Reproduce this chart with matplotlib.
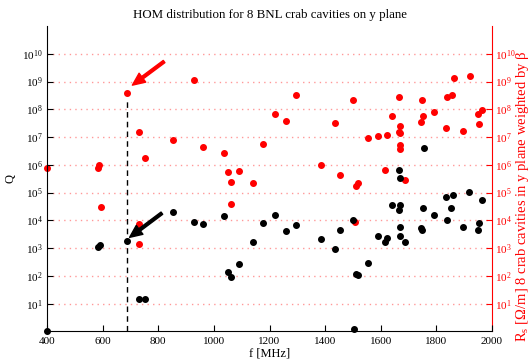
import matplotlib
matplotlib.use("Agg")
import matplotlib.pyplot as plt
import numpy as np
from matplotlib.ticker import NullLocator

plt.rcParams['font.family'] = 'serif'
plt.rcParams['font.serif'] = ['Liberation Serif', 'DejaVu Serif']
plt.rcParams['mathtext.fontset'] = 'custom'
plt.rcParams['mathtext.rm'] = 'Liberation Serif'
plt.rcParams['mathtext.it'] = 'Liberation Serif:italic'
plt.rcParams['font.size'] = 8

# quality factor Q of each HOM (black)
q_freq = [400, 585, 592, 686, 729, 752, 853, 929, 962, 1037, 1049, 1063, 1089,
          1141, 1176, 1218, 1259, 1297, 1386, 1436, 1455, 1500, 1503, 1511, 1518,
          1553, 1589, 1616, 1621, 1641, 1664, 1670, 1670, 1670, 1688, 1664, 1670,
          1745, 1747, 1752, 1755, 1791, 1834, 1839, 1854, 1859, 1894, 1919, 1948,
          1953, 1964]
q_log = [0.0, 3.03, 3.10, 3.27, 1.17, 1.17, 4.30, 3.93, 3.86, 4.16, 2.13, 1.96, 2.43,
         3.22, 3.90, 4.21, 3.62, 3.83, 3.34, 2.98, 3.67, 4.02, 0.08, 2.07, 2.04,
         2.45, 3.44, 3.21, 3.37, 4.56, 4.38, 4.56, 3.78, 3.44, 3.21, 5.81, 5.51,
         3.72, 3.66, 4.43, 6.62, 4.19, 4.84, 4.01, 4.43, 4.93, 3.77, 5.02, 3.65,
         3.90, 4.74]

# transverse shunt impedance Rs, 8 cavities, beta weighted (red)
r_freq = [400, 584, 586, 595, 686, 729, 731, 729, 752, 853, 929, 962, 1037, 1049,
          1063, 1063, 1089, 1141, 1175, 1218, 1259, 1297, 1386, 1437, 1455, 1500,
          1506, 1511, 1518, 1554, 1589, 1617, 1621, 1641, 1664, 1670, 1664, 1670,
          1670, 1670, 1688, 1745, 1747, 1753, 1791, 1836, 1839, 1855, 1862, 1895,
          1920, 1948, 1954, 1964]
r_log = [5.88, 5.88, 6.01, 4.50, 8.58, 7.18, 3.87, 3.14, 6.26, 6.91, 9.06, 6.65, 6.43, 5.74,
         5.38, 4.60, 5.79, 5.35, 6.75, 7.84, 7.59, 8.50, 6.01, 7.50, 5.65, 8.35,
         3.96, 5.25, 5.34, 6.95, 7.03, 5.81, 7.09, 7.77, 8.43, 7.41, 7.18, 7.16,
         6.72, 6.57, 5.45, 7.53, 8.33, 7.77, 7.92, 7.33, 8.46, 8.53, 9.12, 7.23,
         9.19, 7.84, 7.47, 7.98]

q_vals = 10 ** np.array(q_log)
r_vals = 10 ** np.array(r_log)

# the mode picked out with the arrows
f_mark = 686
r_mark = 10 ** 8.58

fig = plt.figure(figsize=(5.31, 3.64), dpi=100)
ax = fig.add_axes([0.0885, 0.0893, 0.8381, 0.8393])
ax2 = ax.twinx()
ax.set_zorder(ax2.get_zorder() + 1)
ax.patch.set_visible(False)

ax2.plot(r_freq, r_vals, 'o', color='red', markersize=4, clip_on=False)
ax.plot(q_freq, q_vals, 'o', color='black', markersize=4, clip_on=False)

ax.plot([f_mark, f_mark], [1, r_mark * 0.6], '--', color='black', linewidth=1,
        dashes=(4, 3))

ax2.annotate('', xy=(707, 10 ** 8.87), xytext=(821, 10 ** 9.72),
             arrowprops=dict(facecolor='red', edgecolor='red', width=2, headwidth=8,
                             headlength=9))
ax.annotate('', xy=(697, 10 ** 3.39), xytext=(813, 10 ** 4.26),
            arrowprops=dict(facecolor='black', edgecolor='black', width=2, headwidth=8,
                            headlength=9))

for a in (ax, ax2):
    a.set_yscale('log')
    a.set_ylim(1, 1e11)
    a.set_yticks([10.0 ** k for k in range(1, 11)])
    a.yaxis.set_minor_locator(NullLocator())
    a.spines['top'].set_visible(False)
ax.set_xlim(400, 2000)
ax.set_xticks(range(400, 2001, 200))

ax2.grid(True, axis='y', color='#ff9999', linestyle=(0, (1, 3)), linewidth=1)

ax.spines['right'].set_visible(False)
ax2.spines['left'].set_visible(False)
ax2.spines['bottom'].set_visible(False)
ax2.spines['right'].set_color('red')

ax.tick_params(axis='y', direction='in', length=4, pad=3, colors='black')
ax.tick_params(axis='x', direction='in', length=4, pad=4, colors='black', top=False)
ax2.tick_params(axis='y', direction='in', length=4, pad=2, labelsize=8, colors='red')

ax.set_title('HOM distribution for 8 BNL crab cavities on y plane', fontsize=9.3, pad=6)
ax.set_xlabel('f [MHz]', labelpad=1, fontsize=9)
ax.set_ylabel('Q', fontsize=9, va='center')
ax.yaxis.set_label_coords(-0.083, 0.5)
ax2.set_ylabel(r'R$_{\rm s}$ [Ω/m] 8 crab cavities in y plane weighted by β',
               color='red', fontsize=10.5, va='center', rotation=90)
ax2.yaxis.set_label_coords(1.068, 0.443)

fig.savefig('out.png', dpi=100)
